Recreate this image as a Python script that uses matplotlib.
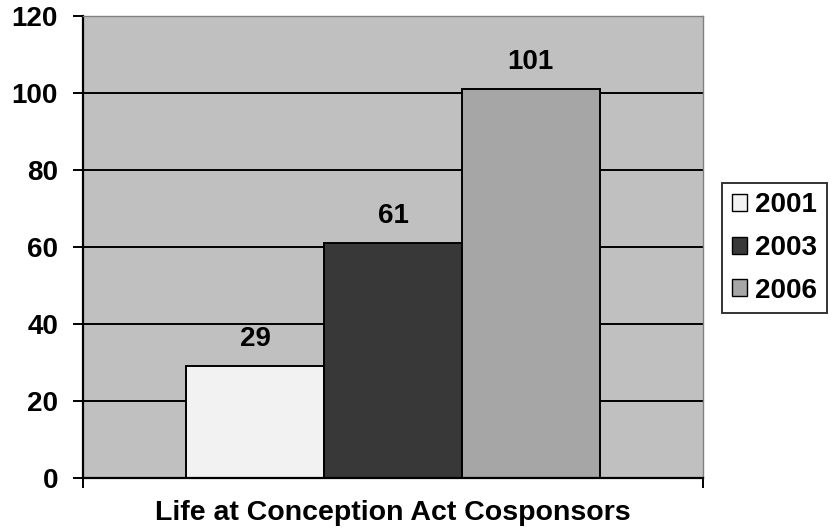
import numpy as np
import matplotlib.pyplot as plt
from matplotlib.patches import Patch

years = ["2001", "2003", "2006"]
cosponsors = [29, 61, 101]
bar_colors = ["#f2f2f2", "#383838", "#a6a6a6"]
y_ticks = [0, 20, 40, 60, 80, 100, 120]
title = "Life at Conception Act Cosponsors"

plt.rcParams["font.family"] = ["Liberation Sans", "DejaVu Sans"]
plt.rcParams["font.weight"] = "bold"

fig = plt.figure(figsize=(8.34, 5.31), dpi=100)
ax = fig.add_axes([83 / 834, 1 - 478 / 531, 620 / 834, 462 / 531])
ax.set_facecolor("#c0c0c0")

# horizontal grid lines
for yv in y_ticks[1:-1]:
    ax.axhline(yv, color="black", lw=1.4, zorder=1)

x = np.arange(len(years)) + 1.25
bars = ax.bar(x, cosponsors, width=1.0, color=bar_colors,
              edgecolor="black", linewidth=1.4, zorder=2)

for xi, v in zip(x, cosponsors):
    ax.annotate(str(v), (xi, v), xytext=(0, 10), textcoords="offset points",
                ha="center", va="bottom", fontsize=20, fontweight="bold")

ax.set_xlim(0, 4.5)
ax.set_ylim(0, 120)
ax.set_yticks(y_ticks)
ax.set_yticklabels([str(t) for t in y_ticks], fontsize=20, fontweight="bold")
ax.tick_params(axis="y", length=7, width=1.4, color="black", pad=11)
ax.set_xticks([0, 4.5])
ax.set_xticklabels(["", ""])
ax.tick_params(axis="x", length=7, width=1.4, direction="out")

for side in ["top", "right"]:
    ax.spines[side].set_color("#808080")
    ax.spines[side].set_linewidth(1.0)
for side in ["left", "bottom"]:
    ax.spines[side].set_color("black")
    ax.spines[side].set_linewidth(1.6)

ax.set_xlabel(title, fontsize=20.5, fontweight="bold", labelpad=5)

handles = [Patch(facecolor=c, edgecolor="black", linewidth=1.0) for c in bar_colors]
leg = fig.legend(handles, years, loc="center left",
                 bbox_to_anchor=(722 / 834, 1 - 248 / 531),
                 prop={"size": 20, "weight": "bold"},
                 frameon=True, fancybox=False, handlelength=0.55, handleheight=0.55,
                 handletextpad=0.3, labelspacing=0.6, borderpad=0.35, borderaxespad=0)
leg.get_frame().set_edgecolor("black")
leg.get_frame().set_linewidth(1.4)

fig.savefig("out.png", dpi=100)
